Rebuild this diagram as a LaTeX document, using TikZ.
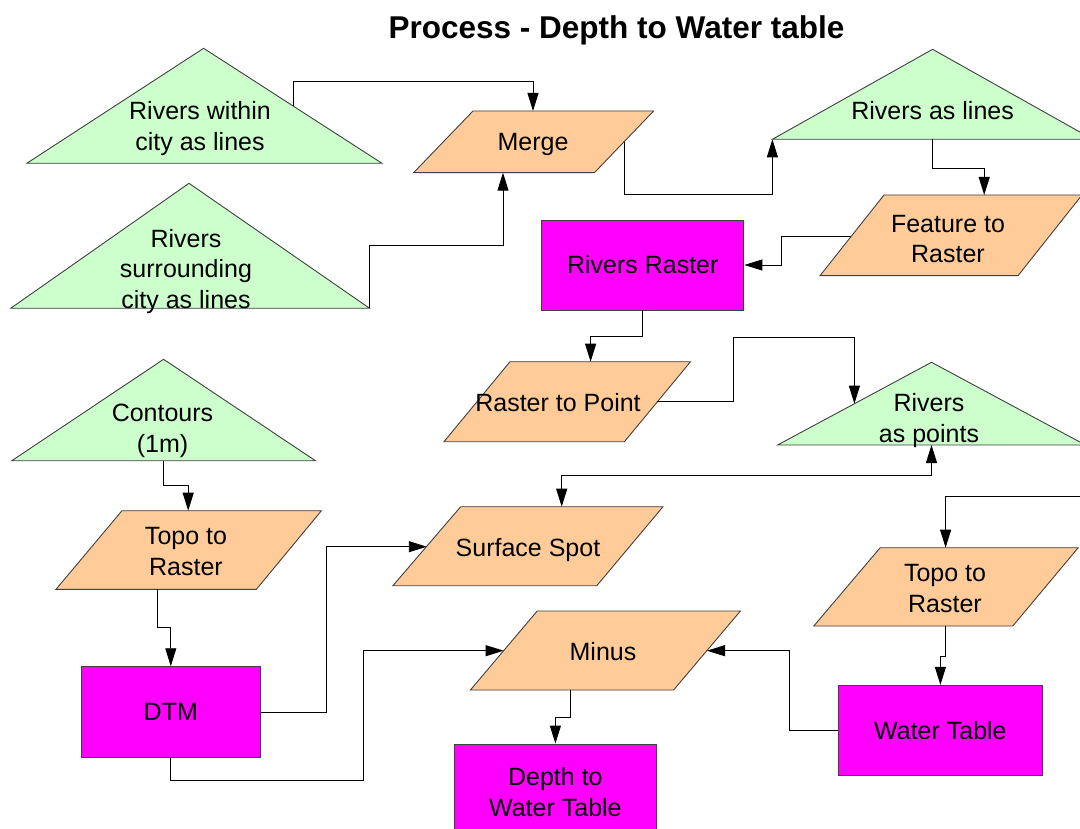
\documentclass[tikz,border=0pt]{standalone}
\usepackage{fontspec}
\setmainfont{Liberation Sans}
\usetikzlibrary{arrows.meta}
\definecolor{srcgreen}{HTML}{CCFFCC}
\definecolor{procorange}{HTML}{FFCC99}
\definecolor{rastmag}{HTML}{FF00FF}
\definecolor{edgegrey}{HTML}{404040}

\begin{document}
\begin{tikzpicture}[x=1pt,y=-1pt,
  font=\fontsize{25}{30.5}\selectfont,
  src/.style={fill=srcgreen,draw=edgegrey,line width=0.9pt,line join=miter},
  proc/.style={fill=procorange,draw=edgegrey,line width=0.9pt},
  rast/.style={rectangle,fill=rastmag,draw=edgegrey,line width=0.9pt,inner sep=0pt,align=center},
  lbl/.style={align=center,inner sep=0pt},
  tip/.style={Triangle[length=18pt,width=11pt]},
  link/.style={draw=black,line width=0.9pt,-{Triangle[length=18pt,width=11pt]}},
  twoway/.style={draw=black,line width=0.9pt,{Triangle[length=18pt,width=11pt]}-{Triangle[length=18pt,width=11pt]}}
]
\useasboundingbox (0,0) rectangle (1080,829);
\clip (0,0) rectangle (1080,829);

% title
\node[lbl,font=\fontsize{31.5}{38}\bfseries\selectfont] (title) at (616.5,30.5) {Process - Depth to Water table};

% ---------- source data (triangles) ----------
\path[src] (203.6,48.3) -- (382,163.3) -- (26.8,163.3) -- cycle;
\node[lbl] (within) at (200,128.7) {Rivers within\\city as lines};
\coordinate (withinOut) at (293.6,106);

\path[src] (189,183.3) -- (369.6,308.3) -- (10.7,308.3) -- cycle;
\node[lbl] (around) at (186,271.5) {Rivers\\surrounding\\city as lines};
\coordinate (aroundOut) at (369.6,308.3);

\path[src] (932.6,49.3) -- (1092.8,139.3) -- (772.4,139.3) -- cycle;
\node[lbl] (rlines) at (932.6,111) {Rivers as lines};
\coordinate (rlinesIn) at (772.4,139.3);
\coordinate (rlinesOut) at (932.6,139.3);

\path[src] (931.5,362.3) -- (1085.4,445) -- (777.6,445) -- cycle;
\node[lbl] (rpoints) at (929,420.3) {Rivers\\as points};
\coordinate (rpointsIn) at (854.4,403.7);
\coordinate (rpointsBase) at (931.5,445);

\path[src] (163.6,359.3) -- (315.4,460.7) -- (11.8,460.7) -- cycle;
\node[lbl] (contours) at (162.5,431) {Contours\\(1m)};
\coordinate (contoursOut) at (163.6,460.7);

% ---------- processes (parallelograms) ----------
\path[proc] (473,111) -- (653.6,111) -- (594.4,172.7) -- (413.6,172.7) -- cycle;
\node[lbl] (merge) at (533,144) {Merge};
\coordinate (mergeTop) at (533,111);
\coordinate (mergeBot) at (503,172.7);
\coordinate (mergeOut) at (624,141.7);

\path[proc] (884,195) -- (1082,195) -- (1018,275.7) -- (820,275.7) -- cycle;
\node[lbl] (ftr) at (948,239) {Feature to\\Raster};
\coordinate (ftrTop) at (984.2,195);
\coordinate (ftrOut) at (851,236.7);

\path[proc] (510,361.7) -- (690.5,361.7) -- (624.4,441.7) -- (444,441.7) -- cycle;
\node[lbl] (rtp) at (558,403) {Raster to Point};
\coordinate (rtpTop) at (590.6,361.7);
\coordinate (rtpOut) at (657.4,401.7);

\path[proc] (122,510.7) -- (321.4,510.7) -- (256.4,589.3) -- (56,589.3) -- cycle;
\node[lbl] (topoL) at (186,551.3) {Topo to\\Raster};
\coordinate (topoLTop) at (188.2,510.7);
\coordinate (topoLOut) at (157,589.3);

\path[proc] (460.7,506.7) -- (663,506.7) -- (596.8,585.7) -- (392.9,585.7) -- cycle;
\node[lbl] (spot) at (528,550.5) {Surface Spot};
\coordinate (spotTop) at (561.7,506.7);
\coordinate (spotIn) at (426.8,546.7);

\path[proc] (880.2,547.7) -- (1078.2,547.7) -- (1012.8,626) -- (813.8,626) -- cycle;
\node[lbl] (topoR) at (945,588.7) {Topo to\\Raster};
\coordinate (topoRTop) at (945.6,547.7);
\coordinate (topoROut) at (945.6,626);

\path[proc] (537.2,611) -- (740.4,611) -- (673.6,690) -- (470.4,690) -- cycle;
\node[lbl] (minus) at (603,651.7) {Minus};
\coordinate (minusL) at (503.6,650.7);
\coordinate (minusR) at (707,650.7);
\coordinate (minusOut) at (570.2,690);

% ---------- rasters (rectangles) ----------
\node[rast,minimum width=202.2pt,minimum height=90pt] (rraster) at (642.8,265) {Rivers Raster};
\node[rast,minimum width=179pt,minimum height=91pt] (dtm) at (170.8,712.2) {DTM};
\node[rast,minimum width=203.2pt,minimum height=89.7pt] (wt) at (940.4,730.2) {Water Table};
\node[rast,minimum width=201.8pt,minimum height=96pt] (depth) at (555.4,792) {Depth to\\Water Table};

% free end of the feed entering from the right
\coordinate (feedR) at (1085,496.7);

% ---------- connectors ----------
\draw[link] (withinOut) -- ++(0,-24.7) -| (mergeTop);
\draw[link] (aroundOut) -- ++(0,-63) -| (mergeBot);
\draw[link] (mergeOut) -- ++(0,52.6) -| (rlinesIn);
\draw[link] (rlinesOut) -- ++(0,29) -| (ftrTop);
\draw[link] (ftrOut) -- ++(-70,0) |- (rraster.east);
\draw[link] (rraster.south) -- ++(0,26) -| (rtpTop);
\draw[link] (rtpOut) -- ++(76.5,0) -- ++(0,-64) -| (rpointsIn);
\draw[twoway] (rpointsBase) -- ++(0,30.7) -| (spotTop);
\draw[link] (feedR) -| (topoRTop);
\draw[link] (contoursOut) -- ++(0,25) -| (topoLTop);
\draw[link] (topoLOut) -- ++(0,38.4) -| (dtm.north);
\draw[link] (dtm.east) -- ++(65.5,0) |- (spotIn);
\draw[link] (dtm.south) -- ++(0,22.3) -- ++(192.8,0) |- (minusL);
\draw[link] (minusOut) -- ++(0,27.3) -| (depth.north);
\draw[link] (topoROut) -- ++(0,30) -| (wt.north);
\draw[link] (wt.west) -- ++(-48.8,0) |- (minusR);
\end{tikzpicture}
\end{document}
